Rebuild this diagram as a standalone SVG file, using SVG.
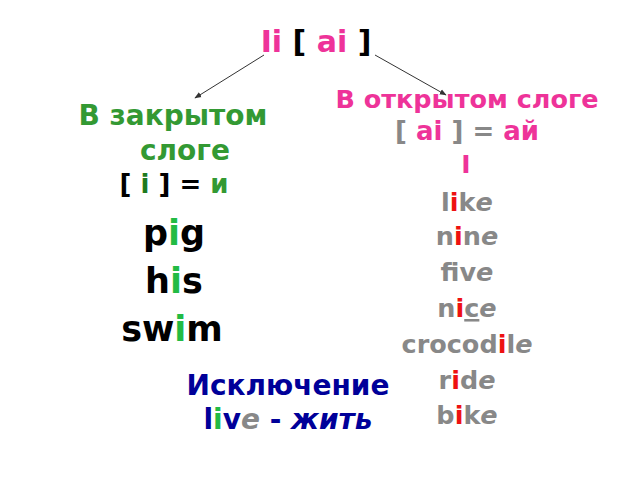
<svg xmlns="http://www.w3.org/2000/svg" width="640" height="480" viewBox="0 0 640 480">
<defs>
<marker id="ah" viewBox="0 0 10 10" refX="9" refY="5" markerWidth="7" markerHeight="7" orient="auto" markerUnits="userSpaceOnUse">
<path d="M0,1 L10,5 L0,9 z" fill="#333"/>
</marker>
</defs>
<style>
text{font-family:"DejaVu Sans","Verdana",sans-serif;font-weight:bold;text-anchor:middle}
.pk{fill:#ee3399}
.bk{fill:#000}
.gr{fill:#339933}
.dg{fill:#1e7a1e}
.lg{fill:#22bb44}
.gy{fill:#888888}
.rd{fill:#ee1111}
.nb{fill:#000099}
.it{font-style:italic}
</style>
<rect width="640" height="480" fill="#fff"/>
<g id="title"><text x="316" y="52" font-size="30"><tspan class="pk">Ii</tspan><tspan class="bk"> [ </tspan><tspan class="pk">ai</tspan><tspan class="bk"> ]</tspan></text></g>
<g id="connectors" stroke="#333" stroke-width="1" fill="none">
<line x1="264" y1="55" x2="195" y2="98" marker-end="url(#ah)"/>
<line x1="375" y1="55" x2="446" y2="95" marker-end="url(#ah)"/>
</g>
<g id="closed">
<text x="173" y="125" font-size="28" class="gr">В закрытом</text>
<text x="185" y="160" font-size="28" class="gr">слоге</text>
<text x="174" y="193" font-size="26"><tspan class="bk">[ </tspan><tspan class="dg">i</tspan><tspan class="bk"> ] = </tspan><tspan class="gr">и</tspan></text>
<text x="174" y="245" font-size="35"><tspan class="bk">p</tspan><tspan class="lg">i</tspan><tspan class="bk">g</tspan></text>
<text x="174" y="293" font-size="35"><tspan class="bk">h</tspan><tspan class="lg">i</tspan><tspan class="bk">s</tspan></text>
<text x="172" y="341" font-size="35"><tspan class="bk">sw</tspan><tspan class="lg">i</tspan><tspan class="bk">m</tspan></text>
</g>
<g id="open">
<text x="467" y="108" font-size="25.5" class="pk">В открытом слоге</text>
<text x="467" y="140" font-size="26"><tspan class="gy">[ </tspan><tspan class="pk">ai</tspan><tspan class="gy"> ] = </tspan><tspan class="pk">ай</tspan></text>
<text x="466" y="173" font-size="25" class="pk">I</text>
<text x="467" y="211" font-size="25.5"><tspan class="gy">l</tspan><tspan class="rd">i</tspan><tspan class="gy">k</tspan><tspan class="gy it">e</tspan></text>
<text x="467" y="245" font-size="25.5"><tspan class="gy">n</tspan><tspan class="rd">i</tspan><tspan class="gy">n</tspan><tspan class="gy it">e</tspan></text>
<text x="467" y="281" font-size="25.5"><tspan class="gy">f</tspan><tspan class="rd">i</tspan><tspan class="gy">v</tspan><tspan class="gy it">e</tspan></text>
<text x="467" y="317" font-size="25.5"><tspan class="gy">n</tspan><tspan class="rd">i</tspan><tspan class="gy" text-decoration="underline">c</tspan><tspan class="gy it">e</tspan></text>
<text x="467" y="353" font-size="25.5"><tspan class="gy">crocod</tspan><tspan class="rd">i</tspan><tspan class="gy">l</tspan><tspan class="gy it">e</tspan></text>
<text x="467" y="389" font-size="25.5"><tspan class="gy">r</tspan><tspan class="rd">i</tspan><tspan class="gy">d</tspan><tspan class="gy it">e</tspan></text>
<text x="467" y="424" font-size="25.5"><tspan class="gy">b</tspan><tspan class="rd">i</tspan><tspan class="gy">k</tspan><tspan class="gy it">e</tspan></text>
</g>
<g id="exception">
<text x="288" y="395" font-size="28" class="nb">Исключение</text>
<text x="288" y="429" font-size="28"><tspan class="nb">l</tspan><tspan class="lg">i</tspan><tspan class="nb">v</tspan><tspan class="gy it">e</tspan><tspan class="nb"> - </tspan><tspan class="nb it">жить</tspan></text>
</g>
</svg>
